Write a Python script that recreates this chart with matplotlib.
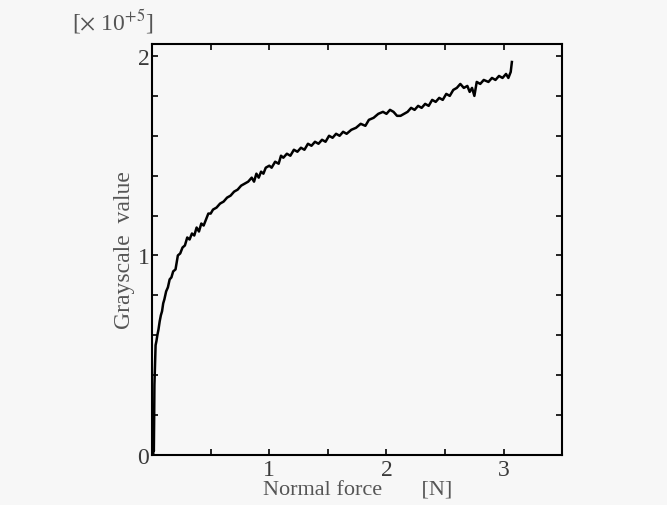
import numpy as np
import matplotlib.pyplot as plt
from matplotlib.ticker import MultipleLocator, FixedLocator

plt.rcParams['font.family'] = ['Liberation Serif', 'DejaVu Serif']
plt.rcParams['mathtext.fontset'] = 'stix'

# Normal force [N] vs grayscale value [x 10^5]
force = [0.010, 0.012, 0.015, 0.018, 0.020, 0.025, 0.030, 0.037, 0.045, 0.055,
         0.065, 0.075, 0.085, 0.095, 0.105, 0.12, 0.135, 0.15, 0.165, 0.18,
         0.20, 0.22, 0.24, 0.26, 0.28, 0.30, 0.32, 0.34, 0.36, 0.38,
         0.40, 0.42, 0.44, 0.46, 0.48, 0.50, 0.52, 0.55, 0.58, 0.61,
         0.64, 0.67, 0.70, 0.73, 0.76, 0.79, 0.82, 0.85, 0.87, 0.89,
         0.91, 0.93, 0.95, 0.97, 1.00, 1.02, 1.05, 1.08, 1.10, 1.12,
         1.15, 1.18, 1.21, 1.24, 1.27, 1.30, 1.33, 1.36, 1.39, 1.42,
         1.45, 1.48, 1.51, 1.54, 1.57, 1.60, 1.63, 1.66, 1.70, 1.74,
         1.78, 1.82, 1.85, 1.89, 1.93, 1.97, 2.00, 2.03, 2.06, 2.09,
         2.12, 2.15, 2.18, 2.21, 2.24, 2.27, 2.30, 2.33, 2.36, 2.39,
         2.42, 2.45, 2.48, 2.51, 2.54, 2.57, 2.60, 2.63, 2.66, 2.69,
         2.71, 2.73, 2.75, 2.77, 2.80, 2.83, 2.87, 2.90, 2.93, 2.96,
         2.99, 3.02, 3.04, 3.06, 3.07]
gray = [0.00, 0.05, 0.02, 0.20, 0.35, 0.45, 0.55, 0.57, 0.60, 0.63,
        0.67, 0.70, 0.72, 0.76, 0.78, 0.82, 0.84, 0.88, 0.89, 0.92,
        0.93, 1.00, 1.01, 1.04, 1.05, 1.09, 1.08, 1.11, 1.10, 1.14,
        1.12, 1.16, 1.15, 1.18, 1.21, 1.21, 1.23, 1.24, 1.26, 1.27,
        1.29, 1.30, 1.32, 1.33, 1.35, 1.36, 1.37, 1.39, 1.37, 1.41,
        1.39, 1.42, 1.41, 1.44, 1.45, 1.44, 1.47, 1.46, 1.50, 1.49,
        1.51, 1.50, 1.53, 1.52, 1.54, 1.53, 1.56, 1.55, 1.57, 1.56,
        1.58, 1.57, 1.60, 1.59, 1.61, 1.60, 1.62, 1.61, 1.63, 1.64,
        1.66, 1.65, 1.68, 1.69, 1.71, 1.72, 1.71, 1.73, 1.72, 1.70,
        1.70, 1.71, 1.72, 1.74, 1.73, 1.75, 1.74, 1.76, 1.75, 1.78,
        1.77, 1.79, 1.78, 1.81, 1.80, 1.83, 1.84, 1.86, 1.84, 1.85,
        1.82, 1.84, 1.80, 1.87, 1.86, 1.88, 1.87, 1.89, 1.88, 1.90,
        1.89, 1.91, 1.89, 1.92, 1.97]

bg = '#f7f7f7'
txt = '#3a3a3a'
fig = plt.figure(figsize=(6.67, 5.06), dpi=100, facecolor=bg)
ax = fig.add_axes([0.228, 0.099, 0.615, 0.812], facecolor=bg)

ax.plot(force, gray, color='black', lw=1.8)

ax.set_xlim(0, 3.5)
ax.set_ylim(0, 2.06)

ax.xaxis.set_major_locator(FixedLocator([1, 2, 3]))
ax.xaxis.set_minor_locator(MultipleLocator(0.5))
ax.yaxis.set_major_locator(FixedLocator([0, 1, 2]))
ax.yaxis.set_minor_locator(MultipleLocator(0.2))
ax.tick_params(which='both', direction='in', top=True, right=True,
               length=4, width=1.2, labelsize=17, labelcolor=txt, pad=2)
ax.tick_params(axis='x', pad=3)

for s in ax.spines.values():
    s.set_linewidth(1.5)

ax.set_xlabel('Normal force       [N]', fontsize=16, color='#555555', labelpad=0)
ax.set_ylabel('Grayscale  value', fontsize=17, color='#555555', labelpad=2)
fig.text(0.108, 0.94, r'[$\times$ 10$^{+5}$]', fontsize=17, color='#555555')

fig.savefig('out.png', dpi=100, facecolor=bg)
